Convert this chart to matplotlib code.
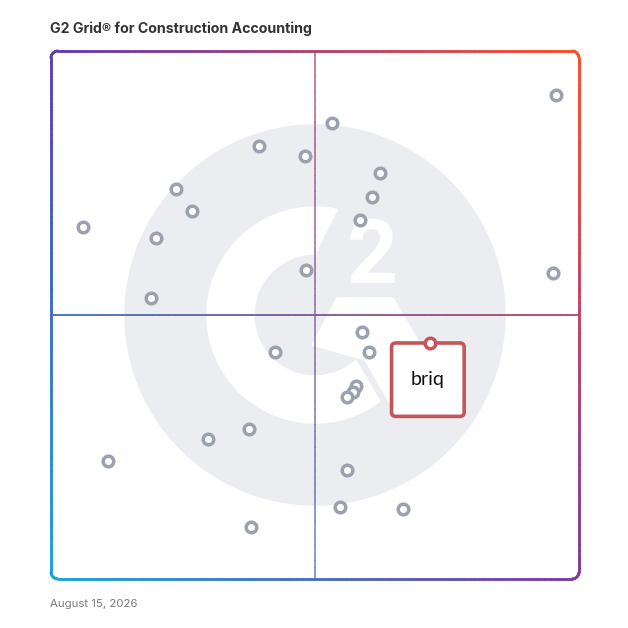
import numpy as np
import matplotlib
matplotlib.use("Agg")
import matplotlib.pyplot as plt
from matplotlib.collections import LineCollection
from matplotlib.patches import Circle, Polygon, FancyBboxPatch
from matplotlib.colors import to_rgb

# Product positions on the grid (0-100 on both axes, satisfaction x / market presence y)
x_vals = [95.6, 53.2, 39.4, 48.1, 62.3, 23.7, 60.8, 26.7, 58.5, 6.1,
          19.9, 48.3, 95.1, 18.9, 58.9, 42.4, 60.2, 57.8, 57.2, 56.1,
          37.5, 29.7, 10.8, 56.1, 54.7, 66.7, 37.9]
y_vals = [91.7, 86.4, 82.0, 80.1, 76.9, 73.9, 72.3, 69.7, 68.0, 66.7,
          64.6, 58.5, 58.0, 53.2, 46.8, 43.0, 43.0, 36.6, 35.4, 34.5,
          28.4, 26.5, 22.3, 20.6, 13.6, 13.3, 9.8]
highlight_name = "briq"
highlight_x = 71.8
highlight_y = 44.7

title = "G2 Grid\u00ae for Construction Accounting"
date_text = "August 15, 2026"

W = 628
fig = plt.figure(figsize=(6.28, 6.28), dpi=100)
bg = fig.add_axes([0, 0, 1, 1])
bg.set_xlim(0, W)
bg.set_ylim(W, 0)
bg.axis("off")

# frame geometry in pixels
L, T, R, B = 51, 51, 579, 579
corner = 7

# bilinear gradient colours of the frame
c_tl = np.array(to_rgb("#5b3cb8"))
c_tr = np.array(to_rgb("#ff4d28"))
c_bl = np.array(to_rgb("#1aa3d9"))
c_br = np.array(to_rgb("#7c3aa0"))


def grad(px, py):
    u = np.clip((px - L) / (R - L), 0, 1)
    v = np.clip((py - T) / (B - T), 0, 1)
    top = c_tl * (1 - u) + c_tr * u
    bot = c_bl * (1 - u) + c_br * u
    return top * (1 - v) + bot * v


def gradient_line(xs, ys, lw, alpha=1.0, z=3):
    pts = np.column_stack([xs, ys])
    segs = np.stack([pts[:-1], pts[1:]], axis=1)
    mid = (pts[:-1] + pts[1:]) / 2
    cols = [grad(mx, my) for mx, my in mid]
    lc = LineCollection(segs, colors=cols, linewidths=lw, alpha=alpha,
                        capstyle="round", zorder=z)
    bg.add_collection(lc)


# G2 watermark
cx, cy = 315, 315
bg.add_patch(Circle((cx, cy), 190, color="#ebedf0", zorder=1))
r_out, r_in = 108, 61
t_out = np.radians(np.linspace(78, 307, 120))
t_in = np.radians(np.linspace(312, 90, 120))
arc = np.concatenate([
    np.column_stack([cx + r_out * np.cos(t_out), cy - r_out * np.sin(t_out)]),
    np.column_stack([cx + r_in * np.cos(t_in), cy - r_in * np.sin(t_in)]),
])
bg.add_patch(Polygon(arc, closed=True, color="white", zorder=2))
chevron = [(337, 298), (393, 298), (441, 380), (392, 407), (365, 360), (312, 345)]
bg.add_patch(Polygon(chevron, closed=True, color="white", zorder=2))
bg.text(372, 283, "2", color="white", fontsize=64, fontweight="bold",
        family="Roboto", ha="center", va="baseline", zorder=2)

# rounded frame
n = 200
side_x, side_y = [], []
for (x0, y0, x1, y1, ang0, ccx, ccy) in [
    (L + corner, T, R - corner, T, 90, R - corner, T + corner),
    (R, T + corner, R, B - corner, 0, R - corner, B - corner),
    (R - corner, B, L + corner, B, -90, L + corner, B - corner),
    (L, B - corner, L, T + corner, 180, L + corner, T + corner),
]:
    side_x.extend(np.linspace(x0, x1, n))
    side_y.extend(np.linspace(y0, y1, n))
    a = np.radians(np.linspace(ang0, ang0 - 90, 12))
    side_x.extend(ccx + corner * np.cos(a))
    side_y.extend(ccy - corner * np.sin(a))
side_x.append(side_x[0])
side_y.append(side_y[0])
gradient_line(np.array(side_x), np.array(side_y), lw=2.0)

# quadrant crosshair
mx, my = (L + R) / 2, (T + B) / 2
gradient_line(np.full(300, mx), np.linspace(T, B, 300), lw=1.1, alpha=0.7)
gradient_line(np.linspace(L, R, 300), np.full(300, my), lw=1.3, alpha=0.9)

# texts
fig.text(50 / W, 1 - 29 / W, title, fontsize=10.2, fontweight="bold",
         family="Inter", color="#333333", ha="left", va="center")
fig.text(50 / W, 1 - 604 / W, date_text, fontsize=8.2,
         family="Inter", color="#7a7a7a", ha="left", va="center")

# data axes over the frame
ax = fig.add_axes([L / W, 1 - B / W, (R - L) / W, (B - T) / W])
ax.set_xlim(0, 100)
ax.set_ylim(0, 100)
ax.axis("off")
ax.patch.set_alpha(0)

ax.scatter(x_vals, y_vals, s=58, facecolor="white", edgecolor="#9ba1ad",
           linewidths=2.5, zorder=4, clip_on=False)

red = "#c4555a"
box_w, box_h = 13.75, 13.9
box = FancyBboxPatch((highlight_x - 7.3, highlight_y - box_h), box_w, box_h,
                     boxstyle="round,pad=0,rounding_size=0.8",
                     facecolor="white", edgecolor=red, linewidth=2.6, zorder=5)
ax.add_patch(box)
ax.text(highlight_x - 0.4, highlight_y - box_h / 2, highlight_name,
        fontsize=14, family="Lato", color="#111111",
        ha="center", va="center", zorder=6)
ax.scatter([highlight_x], [highlight_y], s=58, facecolor="white",
           edgecolor=red, linewidths=2.5, zorder=7, clip_on=False)

fig.savefig("out.png", dpi=100)
